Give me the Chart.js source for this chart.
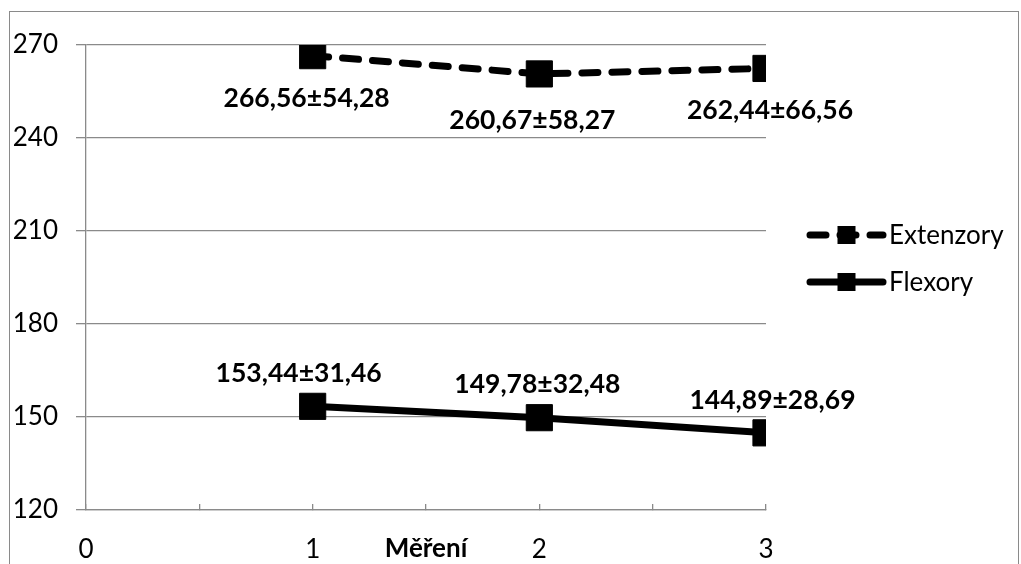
<!DOCTYPE html>
<html>
<head>
<meta charset="utf-8">
<script src="https://cdn.jsdelivr.net/npm/chart.js@4/dist/chart.umd.min.js"></script>
<style>
  body { margin: 0; background: #fff; }
  canvas { display: block; }
</style>
</head>
<body>
<canvas id="myChart" width="1021" height="564"></canvas>
<script>
// data
var measurements = [1, 2, 3];
var extenzory = [266.56, 260.67, 262.44];
var flexory = [153.44, 149.78, 144.89];
var extenzoryLabels = ['266,56±54,28', '260,67±58,27', '262,44±66,56'];
var flexoryLabels = ['153,44±31,46', '149,78±32,48', '144,89±28,69'];
var seriesNames = ['Extenzory', 'Flexory'];
var xTickLabels = [0, 1, 2, 3];
var yTickLabels = [120, 150, 180, 210, 240, 270];
var xTitle = 'Měření';

var gray = '#8a8a8a';
Chart.defaults.font.family = 'Lato, "Open Sans", sans-serif';
Chart.defaults.font.size = 26;
Chart.defaults.color = '#000';

function toPoints(xs, ys) {
  var pts = [];
  for (var i = 0; i < xs.length; i++) pts.push({x: xs[i], y: ys[i]});
  return pts;
}

// outer border of the chart object
var framePlugin = {
  id: 'frame',
  beforeDraw: function(chart) {
    var ctx = chart.ctx;
    ctx.save();
    ctx.strokeStyle = gray;
    ctx.lineWidth = 1;
    ctx.strokeRect(9.5, 11.5, 1009, 620);
    ctx.restore();
  }
};

// "mean±sd" labels next to each point
var valueLabelPlugin = {
  id: 'valueLabels',
  afterDatasetsDraw: function(chart, args, opts) {
    var ctx = chart.ctx;
    ctx.save();
    ctx.font = 'bold 26.5px Lato, "Open Sans", sans-serif';
    ctx.fillStyle = '#000';
    ctx.textAlign = 'center';
    ctx.textBaseline = 'middle';
    chart.data.datasets.forEach(function(ds, i) {
      var meta = chart.getDatasetMeta(i);
      meta.data.forEach(function(pt, j) {
        var off = opts.offsets[i][j];
        ctx.fillText(ds.valueLabels[j], pt.x + off[0], pt.y + off[1] + 1);
      });
    });
    ctx.restore();
  }
};

// legend on the right, line sample with square marker
var sideLegendPlugin = {
  id: 'sideLegend',
  afterDraw: function(chart, args, opts) {
    var ctx = chart.ctx;
    ctx.save();
    chart.data.datasets.forEach(function(ds, i) {
      var y = opts.top + i * opts.rowGap;
      ctx.strokeStyle = '#000';
      ctx.lineWidth = ds.borderWidth;
      ctx.lineCap = 'round';
      ctx.setLineDash(ds.borderDash || []);
      ctx.beginPath();
      ctx.moveTo(opts.x0, y);
      ctx.lineTo(opts.x1, y);
      ctx.stroke();
      ctx.setLineDash([]);
      ctx.fillStyle = '#000';
      var s = opts.marker;
      ctx.fillRect((opts.x0 + opts.x1) / 2 - s / 2, y - s / 2, s, s);
      ctx.font = '26px Lato, "Open Sans", sans-serif';
      ctx.textAlign = 'left';
      ctx.textBaseline = 'middle';
      ctx.fillText(ds.label, opts.x1 + 6, y + 1);
    });
    ctx.restore();
  }
};

var cx = document.getElementById('myChart');
var myChart = new Chart(cx, {
  type: 'line',
  data: {
    datasets: [{
      label: seriesNames[0],
      data: toPoints(measurements, extenzory),
      valueLabels: extenzoryLabels,
      borderColor: '#000',
      backgroundColor: '#000',
      borderWidth: 7,
      borderDash: [16, 14],
      borderCapStyle: 'round',
      pointStyle: 'rect',
      pointRadius: 18.5,
      pointBorderWidth: 1,
      pointBackgroundColor: '#000',
      pointBorderColor: '#000',
      fill: false,
      tension: 0
    }, {
      label: seriesNames[1],
      data: toPoints(measurements, flexory),
      valueLabels: flexoryLabels,
      borderColor: '#000',
      backgroundColor: '#000',
      borderWidth: 7,
      borderCapStyle: 'round',
      pointStyle: 'rect',
      pointRadius: 18.5,
      pointBorderWidth: 1,
      pointBackgroundColor: '#000',
      pointBorderColor: '#000',
      fill: false,
      tension: 0
    }]
  },
  options: {
    responsive: false,
    animation: false,
    events: [],
    layout: { padding: { top: 45, right: 255, left: 0, bottom: 0 } },
    scales: {
      x: {
        type: 'linear',
        min: xTickLabels[0],
        max: xTickLabels[xTickLabels.length - 1],
        grid: {
          drawOnChartArea: false,
          drawTicks: true,
          tickLength: -6,
          color: gray,
          lineWidth: 1.3
        },
        border: { display: true, color: gray, width: 1.3 },
        ticks: {
          stepSize: 0.5,
          padding: 30,
          maxRotation: 0,
          autoSkip: false,
          callback: function(v) {
            return xTickLabels.indexOf(v) >= 0 ? String(v) : '';
          }
        },
        title: {
          display: true,
          text: xTitle,
          font: { weight: 'bold', size: 26 },
          padding: { top: -30, bottom: 0 }
        },
        afterFit: function(scale) { scale.height = 54; }
      },
      y: {
        min: yTickLabels[0],
        max: yTickLabels[yTickLabels.length - 1],
        grid: { color: gray, lineWidth: 1.3, tickLength: 10 },
        border: { display: true, color: gray, width: 1.3 },
        ticks: { stepSize: 30, padding: 18 },
        afterFit: function(scale) { scale.width = 86; }
      }
    },
    plugins: {
      legend: { display: false },
      tooltip: { enabled: false },
      valueLabels: {
        offsets: [
          [[-6, 42], [-7, 45.5], [4, 41]],
          [[-14, -34], [-2, -34.5], [6.5, -33.5]]
        ]
      },
      sideLegend: { x0: 810, x1: 883, top: 235, rowGap: 47, marker: 18 }
    }
  },
  plugins: [framePlugin, valueLabelPlugin, sideLegendPlugin]
});
</script>
</body>
</html>
